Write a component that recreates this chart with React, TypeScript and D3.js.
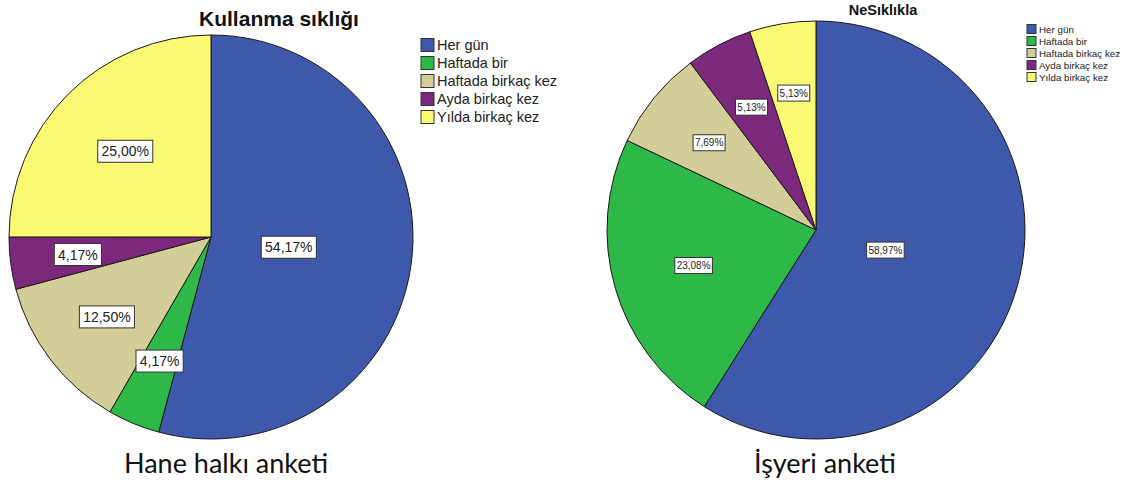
import React from "react";
import * as d3 from "d3";

const categories = ["Her gün", "Haftada bir", "Haftada birkaç kez", "Ayda birkaç kez", "Yılda birkaç kez"];
const colors = ["#3E58AC", "#2EB848", "#D3CE97", "#7C287D", "#FBF873"];
const leftValues = [54.17, 4.17, 12.5, 4.17, 25.0];
const rightValues = [58.97, 23.08, 7.69, 5.13, 5.13];
const leftTitle = "Kullanma sıklığı";
const rightTitle = "NeSıklıkla";
const leftCaption = "Hane halkı anketi";
const rightCaption = "İşyeri anketi";

const fmt = (v: number) => v.toFixed(2).replace(".", ",") + "%";

type PieProps = {
  values: number[];
  cx: number;
  cy: number;
  r: number;
  fontSize: number;
  boxH: number;
  padX: number;
};

function Pie({ values, cx, cy, r, fontSize, boxH, padX }: PieProps) {
  const pie = d3.pie<number>().sort(null).value((d) => d).startAngle(0).endAngle(2 * Math.PI);
  const arcs = pie(values);
  const arc = d3.arc<d3.PieArcDatum<number>>().innerRadius(0).outerRadius(r);
  return (
    <g transform={`translate(${cx},${cy})`}>
      {arcs.map((a, i) => (
        <path key={i} d={arc(a) || ""} fill={colors[i]} stroke="#1a1a1a" strokeWidth={1} />
      ))}
      {arcs.map((a, i) => {
        const half = (a.endAngle - a.startAngle) / 2;
        const mid = a.startAngle + half;
        const dist = (2 * r * Math.sin(half)) / (3 * half);
        const x = Math.sin(mid) * dist;
        const y = -Math.cos(mid) * dist;
        const text = fmt(a.data);
        const w = text.length * fontSize * 0.56 + padX * 2;
        return (
          <g key={"l" + i} transform={`translate(${x},${y})`}>
            <rect x={-w / 2} y={-boxH / 2} width={w} height={boxH} fill="#fff" stroke="#333" strokeWidth={1} />
            <text
              textAnchor="middle"
              dominantBaseline="central"
              fontFamily="'Liberation Sans', Arial, sans-serif"
              fontSize={fontSize}
              fill="#222"
            >
              {text}
            </text>
          </g>
        );
      })}
    </g>
  );
}

type LegendProps = { x: number; y: number; step: number; box: number; fontSize: number };
function Legend({ x, y, step, box, fontSize }: LegendProps) {
  return (
    <g transform={`translate(${x},${y})`}>
      {categories.map((c, i) => (
        <g key={c} transform={`translate(0,${i * step})`}>
          <rect x={0} y={-box / 2} width={box} height={box} fill={colors[i]} stroke="#333" strokeWidth={1} />
          <text
            x={box + 3}
            dominantBaseline="central"
            fontFamily="'Liberation Sans', Arial, sans-serif"
            fontSize={fontSize}
            fill="#222"
          >
            {c}
          </text>
        </g>
      ))}
    </g>
  );
}

export default function App() {
  return (
    <svg width={1122} height={485} style={{ position: "absolute", left: 0, top: 0, background: "#fff" }}>
      <text x={279} y={26} textAnchor="middle" fontFamily="'Liberation Sans', Arial, sans-serif" fontWeight="bold" fontSize={21} fill="#111">
        {leftTitle}
      </text>
      <Pie values={leftValues} cx={211} cy={237} r={202} fontSize={14} boxH={22} padX={4} />
      <Legend x={421} y={45} step={18} box={13} fontSize={14.5} />

      <text x={883} y={15} textAnchor="middle" fontFamily="'Liberation Sans', Arial, sans-serif" fontWeight="bold" fontSize={14.5} fill="#111">
        {rightTitle}
      </text>
      <Pie values={rightValues} cx={816} cy={230} r={209} fontSize={10} boxH={16} padX={2} />
      <Legend x={1027} y={29} step={12} box={9} fontSize={9.8} />

      <text x={226} y={473} textAnchor="middle" fontFamily="Lato, 'Open Sans', sans-serif" fontSize={27} fill="#111">
        {leftCaption}
      </text>
      <text x={825} y={473} textAnchor="middle" fontFamily="Lato, 'Open Sans', sans-serif" fontSize={27} fill="#111">
        {rightCaption}
      </text>
    </svg>
  );
}
